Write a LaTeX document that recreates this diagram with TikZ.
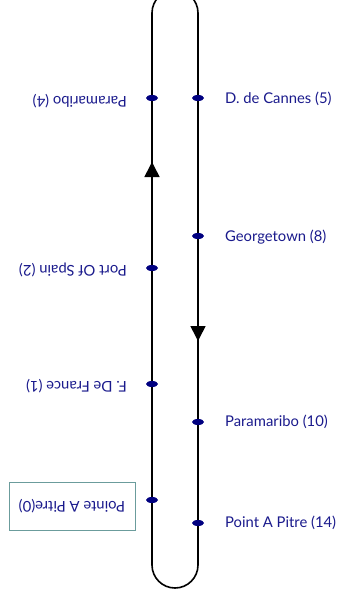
\documentclass[tikz,border=0pt]{standalone}
\usepackage{fontspec}
\setmainfont{Lato}
\usetikzlibrary{arrows.meta,shapes.geometric}
\definecolor{lbl}{RGB}{26,26,140}
\definecolor{dotc}{RGB}{0,0,128}
\definecolor{boxc}{RGB}{107,156,156}
\begin{document}
\begin{tikzpicture}[x=1pt,y=-1pt,
  loopline/.style={draw=black,line width=1.6pt},
  stopdot/.style={shape=ellipse,fill=dotc,inner sep=0pt,minimum width=12pt,minimum height=6pt},
  lblfont/.style={font=\fontsize{14.8}{17}\selectfont},
  rlbl/.style={lblfont,anchor=west,inner sep=0pt,text=lbl},
  llbl/.style={lblfont,anchor=west,rotate=180,inner sep=0pt,text=lbl},
  framed/.style={lblfont,draw=boxc,line width=1pt,rotate=180,text=lbl,minimum width=126pt,minimum height=48pt,inner sep=0pt},
  dirarrow/.style={line width=1.6pt,-{Triangle[width=15pt,length=15pt]}}
]
\useasboundingbox (0,0) rectangle (344,600);
\clip (0,0) rectangle (344,600);
% loop
\coordinate (lb) at (152,565);
\coordinate (lt) at (152,13);
\coordinate (rt) at (198,13);
\coordinate (rb) at (198,565);
\draw[loopline] (lb) -- (lt) arc[start angle=180,end angle=360,radius=23] -- (rb) arc[start angle=0,end angle=180,radius=23] -- cycle;
% direction arrows
\coordinate (ua0) at (152,185);
\coordinate (ua1) at (152,162);
\coordinate (da0) at (198,318);
\coordinate (da1) at (198,341);
\draw[dirarrow] (ua0) -- (ua1);
\draw[dirarrow] (da0) -- (da1);
% left stops
\node[stopdot] (l4) at (152,98) {};
\node[stopdot] (l2) at (152,268) {};
\node[stopdot] (l1) at (152,384) {};
\node[stopdot] (l0) at (152,500) {};
% right stops
\node[stopdot] (r5) at (198,98) {};
\node[stopdot] (r8) at (198,236) {};
\node[stopdot] (r10) at (198,422) {};
\node[stopdot] (r14) at (198,523) {};
% right labels
\node[rlbl] (tr5) at (225,99) {D. de Cannes (5)};
\node[rlbl] (tr8) at (225,237) {Georgetown (8)};
\node[rlbl] (tr10) at (225,422) {Paramaribo (10)};
\node[rlbl] (tr14) at (225,523) {Point A Pitre (14)};
% left labels (upside down)
\node[llbl] (tl4) at (127,101) {Paramaribo (4)};
\node[llbl] (tl2) at (127,270) {Port Of Spain (2)};
\node[llbl] (tl1) at (127,386) {F. De France (1)};
\node[framed] (tl0) at (72,506) {Pointe A Pitre(0)};
\end{tikzpicture}
\end{document}
